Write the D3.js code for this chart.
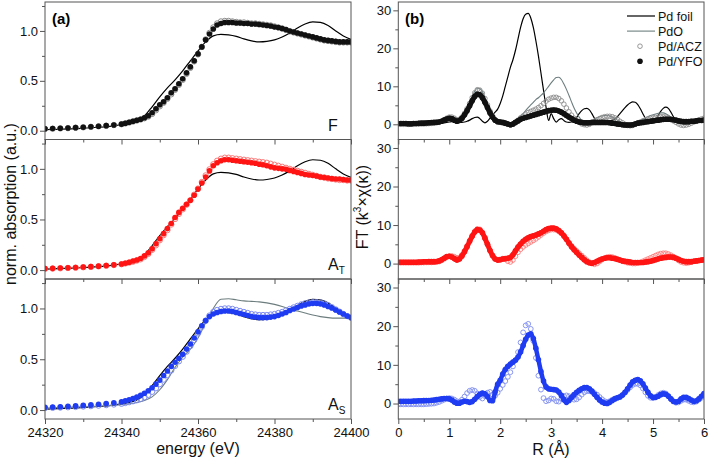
<!DOCTYPE html>
<html><head><meta charset="utf-8">
<script src="https://cdn.jsdelivr.net/npm/d3@7"></script>
<style>
body{margin:0;background:#fff;}
svg text{font-family:"Liberation Sans",Arial,Helvetica,sans-serif;}
</style></head><body>
<svg id="chart" width="709" height="465"></svg>
<script>
// ---------------- DATA ----------------
// XANES energy grids (eV)
const energyPts = d3.range(24320, 24341, 2).concat(d3.range(24341, 24401, 1));   // 71 points (markers)
const energyLine = d3.range(24320, 24401, 2);                                     // 41 points (reference lines)

// reference spectra (lines)
const xanesFoil = [0.010,0.012,0.015,0.018,0.020,0.025,0.030,0.035,0.040,0.050,
  0.060,0.075,0.100,0.150,0.240,0.340,0.430,0.510,0.600,0.700,
  0.800,0.890,0.950,0.965,0.960,0.945,0.920,0.900,0.890,0.895,
  0.910,0.940,0.980,1.030,1.070,1.090,1.085,1.055,1.000,0.950,
  0.915];
const xanesPdO = [0.020,0.022,0.025,0.027,0.030,0.032,0.035,0.038,0.042,0.047,
  0.053,0.062,0.075,0.095,0.130,0.200,0.300,0.420,0.520,0.600,
  0.710,0.860,1.000,1.090,1.095,1.085,1.075,1.070,1.065,1.055,
  1.040,1.020,0.995,0.975,0.955,0.935,0.920,0.910,0.905,0.905,
  0.905];

// panel F
const xanesF_ACZ = [0.018,0.020,0.023,0.026,0.030,0.034,0.039,0.044,0.050,0.057,0.065,
  0.073,0.082,0.092,0.102,0.112,0.125,0.142,0.168,0.205,0.245,
  0.280,0.320,0.365,0.410,0.460,0.510,0.570,0.630,0.695,0.765,
  0.840,0.915,0.980,1.035,1.075,1.095,1.100,1.100,1.095,1.090,
  1.085,1.085,1.080,1.075,1.075,1.070,1.065,1.060,1.055,1.045,
  1.035,1.025,1.010,0.995,0.985,0.975,0.965,0.955,0.945,0.935,
  0.925,0.915,0.905,0.900,0.895,0.890,0.885,0.885,0.885,0.885];
const xanesF_YFO = [0.020,0.022,0.025,0.028,0.031,0.035,0.040,0.045,0.051,0.058,0.066,
  0.075,0.085,0.095,0.105,0.115,0.130,0.150,0.180,0.220,0.260,
  0.290,0.330,0.380,0.420,0.470,0.520,0.580,0.640,0.700,0.770,
  0.840,0.910,0.970,1.020,1.060,1.075,1.085,1.085,1.085,1.080,
  1.080,1.075,1.075,1.070,1.070,1.065,1.060,1.055,1.050,1.040,
  1.035,1.025,1.015,1.000,0.990,0.980,0.970,0.960,0.950,0.940,
  0.930,0.920,0.910,0.905,0.900,0.895,0.890,0.890,0.890,0.890];
// panel A_T
const xanesAT_ACZ = [0.013,0.015,0.018,0.021,0.024,0.028,0.032,0.037,0.043,0.050,0.058,
  0.066,0.074,0.083,0.094,0.107,0.130,0.160,0.200,0.245,0.295,
  0.345,0.395,0.450,0.505,0.555,0.600,0.645,0.690,0.745,0.805,
  0.870,0.935,0.995,1.045,1.080,1.100,1.110,1.110,1.105,1.100,
  1.095,1.090,1.085,1.080,1.075,1.070,1.065,1.060,1.050,1.040,
  1.030,1.020,1.010,1.000,0.990,0.980,0.970,0.960,0.950,0.940,
  0.930,0.920,0.915,0.905,0.900,0.895,0.890,0.890,0.885,0.885];
const xanesAT_YFO = [0.015,0.017,0.020,0.023,0.026,0.030,0.034,0.039,0.045,0.052,0.060,
  0.068,0.077,0.090,0.100,0.115,0.140,0.170,0.210,0.260,0.310,
  0.360,0.410,0.460,0.520,0.570,0.610,0.650,0.690,0.740,0.800,
  0.860,0.920,0.980,1.030,1.060,1.080,1.090,1.090,1.085,1.080,
  1.075,1.070,1.065,1.060,1.055,1.045,1.040,1.030,1.020,1.010,
  1.005,1.000,0.995,0.985,0.975,0.965,0.955,0.945,0.940,0.935,
  0.930,0.920,0.915,0.910,0.905,0.900,0.900,0.895,0.890,0.890];
// panel A_S
const xanesAS_ACZ = [0.020,0.022,0.025,0.028,0.031,0.035,0.039,0.044,0.049,0.055,0.062,
  0.070,0.078,0.087,0.097,0.110,0.127,0.150,0.180,0.215,0.255,
  0.300,0.345,0.390,0.435,0.480,0.525,0.575,0.630,0.690,0.755,
  0.820,0.880,0.930,0.965,0.985,0.995,1.000,1.000,0.995,0.985,
  0.975,0.965,0.955,0.945,0.940,0.935,0.935,0.935,0.940,0.945,
  0.955,0.965,0.980,0.995,1.010,1.025,1.040,1.050,1.058,1.062,
  1.062,1.058,1.048,1.032,1.012,0.990,0.968,0.945,0.925,0.910];
const xanesAS_YFO = [0.027,0.030,0.033,0.037,0.041,0.046,0.051,0.057,0.064,0.072,0.082,
  0.092,0.102,0.114,0.127,0.145,0.165,0.190,0.220,0.255,0.295,
  0.340,0.385,0.430,0.470,0.510,0.550,0.600,0.650,0.710,0.770,
  0.830,0.880,0.920,0.945,0.960,0.970,0.975,0.975,0.970,0.960,
  0.950,0.940,0.930,0.920,0.915,0.910,0.910,0.910,0.915,0.920,
  0.930,0.945,0.960,0.980,0.995,1.010,1.025,1.035,1.045,1.050,
  1.050,1.045,1.035,1.020,1.005,0.985,0.965,0.945,0.925,0.910];

// EXAFS FT grid (Å), 0 .. 6 step 0.05 (121 points)
const rGrid = d3.range(0, 121).map(i => +(i * 0.05).toFixed(2));

const ftFoil = [0.1,0.1,0.1,0.1,0.1,0.1,0.1,0.1,0.15,0.2,
  0.2,0.2,0.2,0.3,0.3,0.3,0.3,0.3,0.4,0.5,
  0.6,0.7,0.7,0.6,0.5,0.5,0.6,0.8,1.1,1.5,
  1.8,1.9,1.5,0.8,0.4,0.8,1.6,2.5,3.2,4.0,
  5.5,7.5,10.0,12.5,15.0,17.0,19.5,22.5,25.5,27.8,
  29.0,29.2,28.0,25.5,22.0,18.0,13.5,9.0,4.5,1.0,
  2.8,1.5,0.6,1.2,1.5,1.0,0.6,0.5,0.6,1.0,
  1.8,2.8,3.6,4.1,4.2,3.8,2.8,1.6,0.6,0.3,
  0.5,0.6,0.7,0.9,1.1,1.4,2.0,2.8,3.6,4.4,
  5.1,5.6,5.9,5.8,5.2,4.1,2.8,1.6,0.8,0.4,
  0.5,1.2,2.3,3.4,4.2,4.5,4.2,3.2,2.0,1.1,
  0.6,0.5,0.6,0.6,0.6,0.7,0.7,0.8,0.9,1.0,
  1.1];
const ftPdO = [0.1,0.1,0.1,0.1,0.1,0.1,0.1,0.1,0.1,0.2,
  0.2,0.2,0.3,0.3,0.3,0.4,0.5,0.8,1.2,1.6,
  1.9,2.0,1.7,1.3,1.3,1.9,3.0,4.3,5.8,7.4,
  8.7,9.5,9.4,8.6,7.1,5.3,3.6,2.2,1.2,0.6,
  0.4,0.3,0.1,-0.1,-0.2,0.1,0.7,1.5,2.2,2.8,
  3.6,4.4,5.1,5.8,6.5,7.0,7.6,8.3,9.1,10.0,
  10.9,11.7,12.3,12.4,11.8,10.6,9.2,7.6,5.9,4.3,
  3.0,1.9,1.0,0.4,0.1,0.3,0.8,1.3,1.7,2.0,
  2.2,2.3,2.3,2.2,1.9,1.5,1.1,0.7,0.3,0.1,
  0.0,0.0,0.2,0.5,0.8,1.1,1.4,1.7,2.0,2.3,
  2.5,2.7,2.9,3.0,3.0,2.8,2.4,1.8,1.2,0.7,
  0.3,0.1,0.1,0.2,0.4,0.6,0.8,1.0,1.2,1.4,
  1.5];
const ftF_ACZ = [0.0,0.0,0.0,0.0,0.0,0.0,0.0,0.05,0.1,0.1,
  0.1,0.15,0.2,0.25,0.3,0.4,0.5,0.8,1.2,1.6,
  1.9,1.9,1.6,1.2,1.3,1.9,2.9,4.1,5.5,7.0,
  8.3,9.1,9.0,8.2,6.8,5.1,3.5,2.2,1.2,0.7,
  0.5,0.4,0.2,0.0,-0.2,0.0,0.5,1.1,1.7,2.2,
  2.7,3.1,3.4,3.7,4.0,4.4,4.9,5.5,6.1,6.6,
  6.9,7.1,7.1,6.8,6.2,5.3,4.3,3.3,2.4,1.6,
  1.0,0.5,0.1,-0.1,-0.2,0.0,0.4,0.8,1.2,1.5,
  1.8,2.0,2.1,2.1,2.0,1.7,1.3,0.8,0.4,0.0,
  -0.3,-0.4,-0.3,0.0,0.3,0.6,0.9,1.2,1.4,1.6,
  1.7,1.8,1.9,2.0,2.0,1.9,1.7,1.3,0.9,0.5,
  0.1,-0.2,-0.3,-0.2,0.0,0.3,0.6,0.9,1.2,1.4,
  1.6];
const ftF_YFO = [0.2,0.2,0.2,0.2,0.15,0.15,0.2,0.2,0.25,0.3,
  0.3,0.35,0.4,0.45,0.5,0.55,0.6,0.8,1.1,1.4,
  1.6,1.5,1.1,0.8,1.0,1.6,2.5,3.6,4.9,6.2,
  7.3,7.9,7.8,7.0,5.8,4.4,3.0,1.9,1.1,0.7,
  0.6,0.5,0.3,0.1,-0.1,0.1,0.5,0.9,1.3,1.6,
  1.8,2.0,2.2,2.4,2.6,2.8,3.0,3.2,3.4,3.6,
  3.7,3.75,3.7,3.5,3.2,2.8,2.3,1.9,1.5,1.1,
  0.8,0.6,0.5,0.4,0.4,0.4,0.5,0.5,0.5,0.5,
  0.5,0.5,0.5,0.4,0.3,0.2,0.1,0.0,-0.1,-0.2,
  -0.2,-0.2,-0.1,0.1,0.3,0.4,0.5,0.6,0.7,0.8,
  0.9,1.0,1.1,1.2,1.3,1.35,1.35,1.3,1.2,1.1,
  0.9,0.8,0.7,0.7,0.7,0.8,0.8,0.9,1.0,1.0,
  1.1];
const ftAT_ACZ = [0.2,0.2,0.2,0.2,0.2,0.2,0.2,0.2,0.2,0.25,
  0.25,0.3,0.3,0.3,0.35,0.4,0.5,0.8,1.2,1.6,
  1.9,2.0,1.8,1.5,1.6,2.3,3.3,4.6,6.0,7.3,
  8.4,9.0,8.9,8.1,6.7,5.0,3.4,2.0,1.2,0.9,
  1.1,1.3,1.1,0.6,0.4,0.9,1.9,2.9,3.7,4.3,
  4.8,5.2,5.6,6.0,6.4,6.9,7.4,7.9,8.3,8.6,
  8.8,8.8,8.7,8.3,7.8,7.1,6.3,5.4,4.6,3.9,
  3.3,2.7,2.1,1.5,0.9,0.4,0.0,-0.2,0.0,0.5,
  1.0,1.4,1.7,1.8,1.7,1.5,1.2,0.9,0.6,0.4,
  0.2,0.1,0.0,0.0,0.1,0.3,0.6,0.9,1.2,1.5,
  1.8,2.1,2.4,2.6,2.7,2.7,2.5,2.2,1.8,1.3,
  0.8,0.4,0.2,0.1,0.2,0.4,0.6,0.7,0.8,0.9,
  1.0];
const ftAT_YFO = [0.35,0.35,0.35,0.35,0.35,0.35,0.35,0.35,0.4,0.4,
  0.45,0.45,0.5,0.5,0.5,0.55,0.7,1.0,1.4,1.8,
  1.9,1.7,1.3,0.9,1.2,2.0,3.1,4.4,5.8,7.1,
  8.2,8.8,8.7,8.0,6.6,5.0,3.4,2.1,1.2,0.9,
  1.0,1.2,1.3,1.4,1.6,2.3,3.3,4.3,5.1,5.8,
  6.3,6.7,7.0,7.2,7.4,7.7,8.0,8.4,8.8,9.1,
  9.2,9.2,9.0,8.6,8.0,7.2,6.3,5.3,4.4,3.6,
  2.9,2.2,1.6,1.0,0.5,0.2,0.1,0.3,0.6,0.9,
  1.2,1.4,1.5,1.5,1.4,1.3,1.1,0.9,0.7,0.6,
  0.5,0.4,0.3,0.3,0.3,0.3,0.3,0.4,0.5,0.6,
  0.8,1.0,1.2,1.4,1.5,1.6,1.7,1.7,1.6,1.4,
  1.1,0.8,0.6,0.5,0.5,0.5,0.6,0.7,0.8,0.9,
  1.0];
const ftAS_ACZ = [-0.2,-0.2,-0.2,-0.2,-0.2,-0.2,-0.2,-0.2,-0.2,-0.2,
  -0.2,-0.15,-0.1,-0.05,0.0,0.2,0.4,0.7,1.0,1.3,
  1.4,1.3,1.0,0.6,0.5,1.0,1.8,2.7,3.3,3.5,
  3.3,2.6,1.7,1.3,1.9,2.8,3.0,2.3,2.0,2.8,
  3.8,4.8,5.8,6.9,8.1,9.6,11.3,13.3,15.8,18.4,
  20.2,20.6,19.3,16.2,11.8,7.2,3.6,1.4,0.6,0.8,
  1.3,1.2,0.6,0.5,1.2,1.9,2.1,1.9,1.4,1.0,
  1.1,1.6,2.3,2.9,3.2,3.2,3.0,2.7,2.3,1.7,
  1.1,0.6,0.4,0.6,1.0,1.3,1.5,1.8,2.2,2.8,
  3.5,4.2,4.8,5.1,5.1,4.7,3.9,2.9,2.0,1.5,
  1.4,1.7,2.2,2.6,2.8,2.6,2.0,1.2,0.5,0.2,
  0.3,0.7,1.0,1.0,0.7,0.4,0.3,0.5,1.0,1.5,
  2.0];
const ftAS_YFO = [0.6,0.6,0.6,0.6,0.6,0.6,0.65,0.65,0.7,0.7,
  0.75,0.8,0.8,0.85,0.9,1.0,1.1,1.2,1.3,1.3,
  1.2,0.9,0.4,0.1,0.1,0.4,0.6,0.5,0.3,0.5,
  1.1,1.8,2.4,2.7,2.5,1.8,0.8,0.7,3.0,5.0,
  6.0,7.6,8.8,9.6,10.2,10.7,11.2,12.0,13.3,15.0,
  16.6,17.7,18.0,16.8,14.3,11.3,8.3,5.8,4.3,3.8,
  3.7,3.6,3.5,3.0,2.1,1.0,0.3,0.8,1.6,2.3,
  2.9,3.4,3.8,4.1,4.1,3.8,3.2,2.4,1.6,0.9,
  0.4,0.1,0.0,0.3,0.8,1.2,1.5,1.7,2.2,2.9,
  3.8,4.8,5.6,6.0,6.2,5.9,5.1,4.0,2.9,2.0,
  1.6,1.6,1.9,2.3,2.5,2.4,1.9,1.2,0.6,0.4,
  0.6,1.2,1.6,1.6,1.3,0.9,0.6,0.7,1.2,1.9,
  2.6];

// axis ticks / labels
const energyTicks = [24320, 24340, 24360, 24380, 24400];
const energyMinor = [24330, 24350, 24370, 24390];
const absTicks = [0.0, 0.5, 1.0];
const absMinor = [0.25, 0.75, 1.25];
const rTicks = [0, 1, 2, 3, 4, 5, 6];
const rMinor = [0.5, 1.5, 2.5, 3.5, 4.5, 5.5];
const ftTicks = [0, 10, 20, 30];
const ftMinor = [5, 15, 25];
const legendNames = ["Pd foil", "PdO", "Pd/ACZ", "Pd/YFO"];
const panelNames = [["F", ""], ["A", "T"], ["A", "S"]];

// ---------------- DRAWING ----------------
const svg = d3.select("#chart");
const FONT = '"Liberation Sans", Arial, Helvetica, sans-serif';
const rows = [[2, 139.5], [139.5, 279], [279, 419]];
const xE = d3.scaleLinear().domain([24320, 24400]).range([45, 351]);
const xR = d3.scaleLinear().domain([0, 6]).range([398.3, 704]);
const FRAME = "#555";

const col = {
  black: "#111", grey: "#8c8c8c", pdo: "#6d7d7e",
  red: "#ff1414", redOpen: "#ff7a7a",
  blue: "#1f3cf2", blueOpen: "#7d8cf2"
};

let clipId = 0;
function panel(x, yDom, row, cfg) {
  const y = d3.scaleLinear().domain(yDom).range([row[1], row[0]]);
  const g = svg.append("g");
  const id = "clip" + (clipId++);
  svg.append("clipPath").attr("id", id).append("rect")
    .attr("x", x.range()[0]).attr("y", row[0])
    .attr("width", x.range()[1] - x.range()[0]).attr("height", row[1] - row[0]);
  const d = g.append("g").attr("clip-path", `url(#${id})`);
  const lineGen = d3.line().x(p => x(p[0])).y(p => y(p[1])).curve(d3.curveMonotoneX);

  // lines
  (cfg.lines || []).forEach(L => {
    const pts = L.xs.map((v, i) => [v, L.ys[i]]);
    d.append("path").datum(pts)
      .attr("fill", "none").attr("stroke", L.color).attr("stroke-width", L.w)
      .attr("d", lineGen);
  });
  // open markers
  (cfg.open || []).forEach(S => {
    d.append("g").selectAll("circle").data(S.xs.map((v, i) => [v, S.ys[i]])).join("circle")
      .attr("cx", p => x(p[0])).attr("cy", p => y(p[1])).attr("r", S.r)
      .attr("fill", "none").attr("stroke", S.color).attr("stroke-width", S.sw);
  });
  // filled markers (optionally joined into a thick band, as in the dense original)
  (cfg.filled || []).forEach(S => {
    const pts = S.xs.map((v, i) => [v, S.ys[i]]);
    if (S.band) {
      d.append("path").datum(pts).attr("fill", "none").attr("stroke", S.color)
        .attr("stroke-width", S.band).attr("stroke-linejoin", "round").attr("stroke-linecap", "round")
        .attr("d", lineGen);
    }
    d.append("g").selectAll("circle").data(pts).join("circle")
      .attr("cx", p => x(p[0])).attr("cy", p => y(p[1])).attr("r", S.r)
      .attr("fill", S.color);
  });

  // frame
  g.append("rect").attr("x", x.range()[0]).attr("y", row[0])
    .attr("width", x.range()[1] - x.range()[0]).attr("height", row[1] - row[0])
    .attr("fill", "none").attr("stroke", FRAME).attr("stroke-width", 1);

  const styleAxis = s => {
    s.select(".domain").remove();
    s.selectAll("line").attr("stroke", FRAME);
    s.selectAll("text").attr("font-family", FONT).attr("font-size", 13).attr("fill", "#111");
  };
  g.append("g").attr("transform", `translate(${x.range()[0]},0)`)
    .call(d3.axisLeft(y).tickValues(cfg.yTicks).tickSize(5).tickPadding(2).tickFormat(cfg.yFmt))
    .call(styleAxis);
  g.append("g").attr("transform", `translate(${x.range()[0]},0)`)
    .call(d3.axisLeft(y).tickValues(cfg.yMinor).tickSize(3).tickFormat(""))
    .call(styleAxis);
  g.append("g").attr("transform", `translate(0,${row[1]})`)
    .call(d3.axisBottom(x).tickValues(cfg.xTicks).tickSize(5).tickPadding(4)
      .tickFormat(cfg.xLabels ? d3.format("d") : ""))
    .call(styleAxis);
  g.append("g").attr("transform", `translate(0,${row[1]})`)
    .call(d3.axisBottom(x).tickValues(cfg.xMinor).tickSize(3).tickFormat(""))
    .call(styleAxis);
  return { g, x, y };
}

const yDomL = [-0.088, 1.29], yDomR = [-4, 32.2];
const fmtAbs = d3.format(".1f"), fmtFT = d3.format("d");

// ---- left: XANES ----
const leftCfg = [
  { lines: [{ xs: energyLine, ys: xanesFoil, color: "#000", w: 1.2 }],
    open: [{ xs: energyPts, ys: xanesF_ACZ, color: col.grey, r: 2.7, sw: 1 }],
    filled: [{ xs: energyPts, ys: xanesF_YFO, color: col.black, r: 2.8 }] },
  { lines: [{ xs: energyLine, ys: xanesFoil, color: "#000", w: 1.2 }],
    open: [{ xs: energyPts, ys: xanesAT_ACZ, color: col.redOpen, r: 2.7, sw: 1 }],
    filled: [{ xs: energyPts, ys: xanesAT_YFO, color: col.red, r: 2.8 }] },
  { lines: [{ xs: energyLine, ys: xanesFoil, color: "#000", w: 1.2 },
            { xs: energyLine, ys: xanesPdO, color: col.pdo, w: 1.1 }],
    open: [{ xs: energyPts, ys: xanesAS_ACZ, color: col.blueOpen, r: 2.7, sw: 1 }],
    filled: [{ xs: energyPts, ys: xanesAS_YFO, color: col.blue, r: 2.8 }] }
];
leftCfg.forEach((c, i) => {
  Object.assign(c, { yTicks: absTicks, yMinor: absMinor, yFmt: fmtAbs,
    xTicks: energyTicks, xMinor: energyMinor, xLabels: i === 2 });
  const p = panel(xE, yDomL, rows[i], c);
  const t = p.g.append("text").attr("x", 328).attr("y", rows[i][1] - 9)
    .attr("font-family", FONT).attr("font-size", 16).attr("fill", "#111").text(panelNames[i][0]);
  if (panelNames[i][1]) t.append("tspan").attr("font-size", 10).attr("dy", 4).text(panelNames[i][1]);
});

// ---- right: FT ----
const rightCfg = [
  { lines: [{ xs: rGrid, ys: ftFoil, color: "#000", w: 1.2 },
            { xs: rGrid, ys: ftPdO, color: col.pdo, w: 1.1 }],
    open: [{ xs: rGrid, ys: ftF_ACZ, color: col.grey, r: 2.3, sw: 0.9 }],
    filled: [{ xs: rGrid, ys: ftF_YFO, color: col.black, r: 2.8, band: 5 }] },
  { open: [{ xs: rGrid, ys: ftAT_ACZ, color: col.redOpen, r: 2.3, sw: 0.9 }],
    filled: [{ xs: rGrid, ys: ftAT_YFO, color: col.red, r: 2.8, band: 5 }] },
  { open: [{ xs: rGrid, ys: ftAS_ACZ, color: col.blueOpen, r: 2.4, sw: 0.9 }],
    filled: [{ xs: rGrid, ys: ftAS_YFO, color: col.blue, r: 2.8, band: 4.5 }] }
];
rightCfg.forEach((c, i) => {
  Object.assign(c, { yTicks: ftTicks, yMinor: ftMinor, yFmt: fmtFT,
    xTicks: rTicks, xMinor: rMinor, xLabels: i === 2 });
  panel(xR, yDomR, rows[i], c);
});

// panel tags
svg.append("text").attr("x", 52).attr("y", 24).attr("font-family", FONT)
  .attr("font-size", 15).attr("font-weight", "bold").text("(a)");
svg.append("text").attr("x", 405).attr("y", 24).attr("font-family", FONT)
  .attr("font-size", 15).attr("font-weight", "bold").text("(b)");

// legend
const lg = svg.append("g").attr("font-family", FONT).attr("font-size", 12.5);
legendNames.forEach((name, i) => {
  const yy = 16 + i * 15.1;
  if (i === 0) lg.append("line").attr("x1", 627).attr("x2", 655).attr("y1", yy).attr("y2", yy).attr("stroke", "#000").attr("stroke-width", 1.2);
  if (i === 1) lg.append("line").attr("x1", 627).attr("x2", 655).attr("y1", yy).attr("y2", yy).attr("stroke", col.pdo).attr("stroke-width", 1.1);
  if (i === 2) lg.append("circle").attr("cx", 640).attr("cy", yy).attr("r", 2.3).attr("fill", "none").attr("stroke", col.grey).attr("stroke-width", 0.9);
  if (i === 3) lg.append("circle").attr("cx", 640).attr("cy", yy).attr("r", 2.8).attr("fill", col.black);
  lg.append("text").attr("x", 658).attr("y", yy + 4.5).attr("fill", "#111").text(name);
});

// axis titles
svg.append("text").attr("x", 198).attr("y", 454).attr("text-anchor", "middle")
  .attr("font-family", FONT).attr("font-size", 16).attr("fill", "#111").text("energy (eV)");
svg.append("text").attr("x", 551).attr("y", 455).attr("text-anchor", "middle")
  .attr("font-family", FONT).attr("font-size", 16).attr("fill", "#111").text("R (Å)");
svg.append("text").attr("transform", "translate(16,204) rotate(-90)").attr("text-anchor", "middle")
  .attr("font-family", FONT).attr("font-size", 16).attr("fill", "#111").text("norm. absorption (a.u.)");
const ft = svg.append("text").attr("transform", "translate(368,207) rotate(-90)").attr("text-anchor", "middle")
  .attr("font-family", FONT).attr("font-size", 16).attr("fill", "#111");
ft.append("tspan").text("FT (k");
ft.append("tspan").attr("font-size", 10).attr("dy", -7).text("3");
ft.append("tspan").attr("dy", 7).text("×χ(κ))");
</script>
</body></html>
